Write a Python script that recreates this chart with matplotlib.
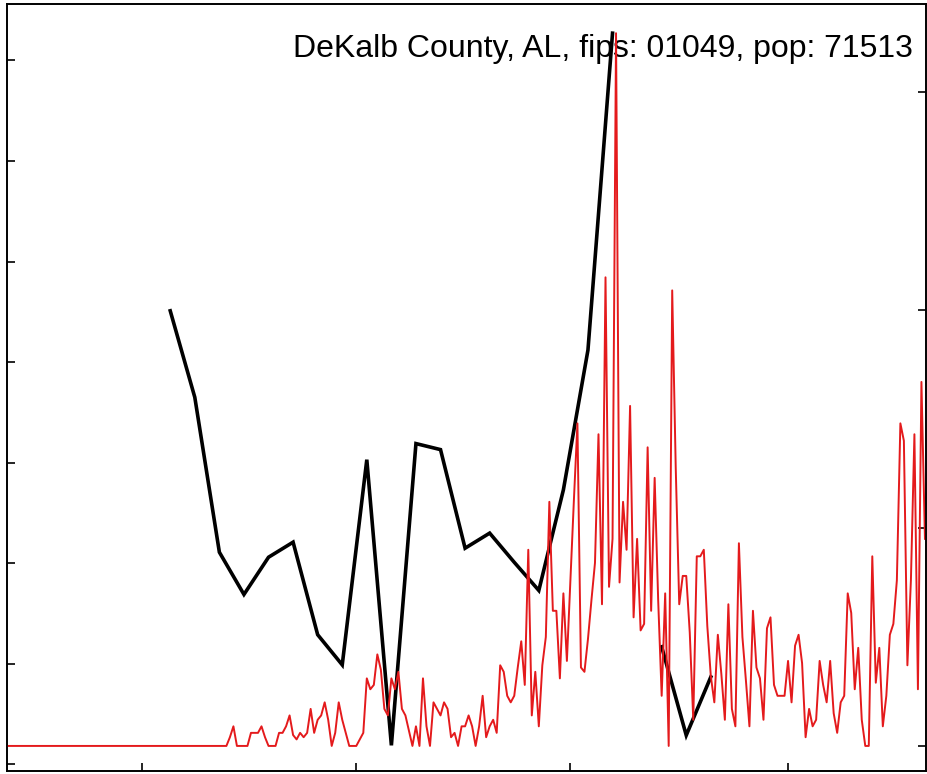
import pandas as pd
import matplotlib
matplotlib.use("Agg")
import matplotlib.pyplot as plt
import matplotlib.dates as mdates

TITLE = "DeKalb County, AL, fips: 01049, pop: 71513"

# daily series (right axis), one value per day from START_DATE
START_DATE = "2020-01-22"
DAILY_VALUES = [
    0, 0, 0, 0, 0, 0, 0, 0, 0, 0, 0, 0, 0, 0, 0, 0, 0, 0, 0, 0,
    0, 0, 0, 0, 0, 0, 0, 0, 0, 0, 0, 0, 0, 0, 0, 0, 0, 0, 0, 0,
    0, 0, 0, 0, 0, 0, 0, 0, 0, 0, 0, 0, 0, 0, 0, 0, 0, 0, 0, 0,
    0, 0, 0,
    0, 0.4, 0.9, 0, 0, 0, 0, 0.6, 0.6, 0.6, 0.9, 0.4, 0, 0, 0, 0.6, 0.6,
    0.9, 1.4, 0.5, 0.3,
    0.6, 0.4, 0.6, 1.7, 0.6, 1.2, 1.4, 2.0, 1.2, 0,
    0.6, 2.0, 1.2, 0.6, 0, 0, 0, 0.3, 0.6, 3.1,
    2.6, 2.8, 4.2, 3.5, 1.7, 1.4, 3.1, 2.6, 3.4, 1.7,
    1.4, 0.7, 0, 0.9, 0, 3.1, 0.9, 0, 2.0, 1.7,
    1.4, 2.0, 1.7, 0.4, 0.6, 0, 0.9, 0.9, 1.4, 0.9,
    0, 0.9, 2.3, 0.4, 0.9, 1.2, 0.6, 3.7, 3.4, 2.3,
    2.0, 2.3, 3.6, 4.8, 2.8,
    9.0, 1.4, 3.4, 0.9, 3.7, 5.0, 11.2, 6.2, 6.2, 3.1,
    7.0, 3.9, 7.6, 11.3, 14.8, 3.6, 3.4, 4.9, 6.7, 8.4,
    14.3, 6.5, 21.5, 7.3, 9.5, 32.7, 7.5, 11.2, 9.0, 15.6,
    5.9, 9.5, 5.3, 5.6, 13.7, 6.2, 12.3, 6.7, 2.3, 7.0,
    0, 20.9, 12.8,
    6.5, 7.8, 7.8, 5.2, 1.2, 8.7, 8.7, 9.0, 5.5, 3.2,
    2.0, 5.1, 3.3, 1.2, 6.5, 1.7, 0.9, 9.3, 5.0, 3.0,
    0.9, 6.2, 3.6, 3.1, 1.2, 5.4, 5.9, 2.8, 2.3, 2.3,
    2.3, 3.9, 2.0, 4.6, 5.1, 3.8, 0.4, 1.7, 0.9, 1.2,
    3.9, 2.8, 2.0, 3.9, 1.5, 0.6, 2.0, 2.3, 7.0, 6.1,
    2.6, 4.5, 1.2, 0, 0, 8.7, 2.9, 4.5, 0.9, 2.3,
    5.1, 5.6, 7.6, 14.8, 14.0, 3.7, 7.6, 14.3, 2.6, 16.7,
    9.5,
]

# weekly series (left axis), one value per week from WEEKLY_START
WEEKLY_START = "2020-03-09"
WEEKLY_VALUES = [
    4.51, 3.65, 2.11, 1.69, 2.06, 2.21, 1.29, 0.99, 3.03, 0.19,
    3.19, 3.13, 2.15, 2.30, 2.01, 1.73, 2.73, 4.12, 7.27, float("nan"),
    1.17, 0.29, 0.87,
]

LEFT_TICKS = [0, 1, 2, 3, 4, 5, 6, 7]
RIGHT_TICKS = [0, 10, 20, 30]
X_TICKS = ["2020-03-01", "2020-05-01", "2020-07-01", "2020-09-01"]

days = pd.date_range(START_DATE, periods=len(DAILY_VALUES), freq="D")
weeks = pd.date_range(WEEKLY_START, periods=len(WEEKLY_VALUES), freq="7D")

fig = plt.figure(figsize=(9.28, 7.74), dpi=100)
ax = fig.add_axes([7 / 928, 3 / 774, 919 / 928, 767 / 774])

ax.plot(weeks, WEEKLY_VALUES, color="black", lw=2.6, solid_joinstyle="miter")
ax.text(0.986, 0.931, TITLE, transform=ax.transAxes, ha="right", va="baseline",
        fontsize=23, family=["Liberation Sans", "DejaVu Sans"], zorder=1)

ax2 = ax.twinx()
ax2.plot(days, DAILY_VALUES, color="#e41a1c", lw=1.4)

start = pd.Timestamp(START_DATE)
ax.set_xlim(mdates.date2num(start + pd.Timedelta(days=0.5)),
            mdates.date2num(start + pd.Timedelta(days=262.3)))
ax.set_ylim(-0.065, 7.56)
ax2.set_ylim(-1.15, 34.04)

ax.set_xticks([mdates.date2num(pd.Timestamp(t)) for t in X_TICKS])
ax.set_yticks(LEFT_TICKS)
ax2.set_yticks(RIGHT_TICKS)

ax.tick_params(axis="both", direction="in", length=6, width=1.2,
               labelbottom=False, labelleft=False, right=False, top=False)
ax2.tick_params(axis="y", direction="in", length=6, width=1.2,
                labelright=False, left=False)

for a in (ax, ax2):
    for s in a.spines.values():
        s.set_linewidth(1.2)

fig.savefig("out.png", dpi=100)
